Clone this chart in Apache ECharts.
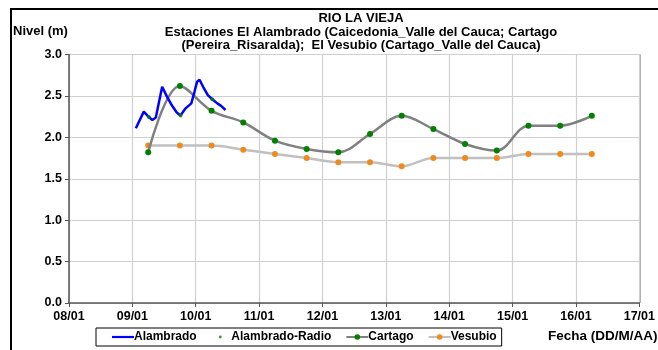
<!DOCTYPE html>
<html><head><meta charset="utf-8">
<script src="https://cdn.jsdelivr.net/npm/echarts@6/dist/echarts.min.js"></script>
<style>html,body{margin:0;padding:0;background:#fff}#c{width:658px;height:350px}</style>
</head><body><div id="c"></div>
<script>
// Data (x = day of January, fractional)
const alambradoDays   = [9.055, 9.18, 9.26, 9.315, 9.37, 9.47, 9.54, 9.62, 9.70, 9.76, 9.84, 9.93, 9.98, 10.02, 10.06, 10.13, 10.19, 10.26, 10.34, 10.40, 10.47];
const alambradoLevels = [2.11, 2.31, 2.245, 2.21, 2.24, 2.61, 2.50, 2.39, 2.30, 2.265, 2.35, 2.41, 2.55, 2.67, 2.695, 2.59, 2.51, 2.46, 2.41, 2.38, 2.33];
const radioDays   = [9.26, 9.76, 10.26];
const radioLevels = [2.245, 2.265, 2.46];
const stationDays = [9.25, 9.75, 10.25, 10.75, 11.25, 11.75, 12.25, 12.75, 13.25, 13.75, 14.25, 14.75, 15.25, 15.75, 16.25];
const cartagoLevels = [1.82, 2.62, 2.32, 2.18, 1.96, 1.86, 1.82, 2.04, 2.26, 2.10, 1.92, 1.84, 2.14, 2.14, 2.26];
const vesubioLevels = [1.90, 1.90, 1.90, 1.85, 1.80, 1.75, 1.70, 1.70, 1.65, 1.75, 1.75, 1.75, 1.80, 1.80, 1.80];
const xTickLabels = ['08/01','09/01','10/01','11/01','12/01','13/01','14/01','15/01','16/01','17/01'];
const yTickLabels = ['0.0','0.5','1.0','1.5','2.0','2.5','3.0'];
const seriesNames = ['Alambrado', 'Alambrado-Radio', 'Cartago', 'Vesubio'];

const zip = (a, b) => a.map((v, i) => [v, b[i]]);
const FONT = '"Liberation Sans", Arial, sans-serif';

const chart = echarts.init(document.getElementById('c'), null, {renderer: 'canvas'});
chart.setOption({
  animation: false,
  backgroundColor: '#fff',
  textStyle: {fontFamily: FONT},
  title: {
    text: 'RIO LA VIEJA\nEstaciones El Alambrado (Caicedonia_Valle del Cauca; Cartago\n(Pereira_Risaralda);  El Vesubio (Cartago_Valle del Cauca)',
    left: 356, top: 7, textAlign: 'center',
    textStyle: {fontFamily: FONT, fontSize: 13, fontWeight: 'bold', color: '#000', lineHeight: 13.5}
  },
  grid: {left: 69, right: 18, top: 54.5, bottom: 47, show: false},
  xAxis: {
    type: 'value', min: 8, max: 17, interval: 1,
    axisLine: {show: true, lineStyle: {color: '#555', width: 1.5}},
    axisTick: {show: true, length: 4, lineStyle: {color: '#555'}},
    splitLine: {show: true, lineStyle: {color: '#cfcfcf', width: 1.2}},
    axisLabel: {
      formatter: v => xTickLabels[Math.round(v - 8)],
      fontFamily: FONT, fontSize: 12.5, fontWeight: 'bold', color: '#000', margin: 7
    }
  },
  yAxis: {
    type: 'value', min: 0, max: 3, interval: 0.5,
    axisLine: {show: true, lineStyle: {color: '#555', width: 1.5}},
    axisTick: {show: true, length: 4, lineStyle: {color: '#555'}},
    splitLine: {show: true, lineStyle: {color: '#cfcfcf', width: 1.2}},
    axisLabel: {
      formatter: v => yTickLabels[Math.round(v * 2)],
      fontFamily: FONT, fontSize: 12.5, fontWeight: 'bold', color: '#000', margin: 7
    }
  },
  legend: {
    left: 96, top: 328, width: 420,
    itemGap: 14, itemWidth: 22, itemHeight: 7,
    padding: [3, 5, 3, 16],
    borderColor: '#000', borderWidth: 1,
    textStyle: {fontFamily: FONT, fontSize: 12, fontWeight: 'bold', color: '#000', padding: [0, 0, 0, -5]},
    data: [
      {name: seriesNames[0], icon: 'path://M0,3L22,3L22,5.2L0,5.2Z'},
      {name: seriesNames[1], icon: 'path://M0,0M22,0M22,8M0,8M11,4m-1.6,0a1.6,1.6 0 1,0 3.2,0a1.6,1.6 0 1,0 -3.2,0Z'},
      {name: seriesNames[2]},
      {name: seriesNames[3]}
    ]
  },
  graphic: [
    {type: 'rect', shape: {x: 11, y: 9, width: 760, height: 400}, style: {fill: 'none', stroke: '#000', lineWidth: 2}, silent: true},
    {type: 'text', left: 13, top: 25, style: {text: 'Nivel (m)', font: 'bold 13px ' + FONT, fill: '#000'}},
    {type: 'text', left: 548, top: 329, style: {text: 'Fecha (DD/M/AA)', font: 'bold 13.5px ' + FONT, fill: '#000'}},
    {type: 'line', shape: {x1: 640, y1: 54.5, x2: 640, y2: 303}, style: {stroke: '#777', lineWidth: 1.2}, silent: true}
  ],
  series: [
    {
      name: seriesNames[0], type: 'line', data: zip(alambradoDays, alambradoLevels),
      showSymbol: false, symbol: 'none', smooth: false,
      lineStyle: {color: '#0000ff', width: 2.5}, itemStyle: {color: '#0000ff'}, z: 4
    },
    {
      name: seriesNames[1], type: 'scatter', data: zip(radioDays, radioLevels),
      symbol: 'circle', symbolSize: 4, itemStyle: {color: '#008000'}, z: 5
    },
    {
      name: seriesNames[2], type: 'line', data: zip(stationDays, cartagoLevels),
      smooth: 0.35, symbol: 'circle', symbolSize: 6,
      lineStyle: {color: '#808080', width: 2.5}, itemStyle: {color: '#008000', borderWidth: 0}, z: 3
    },
    {
      name: seriesNames[3], type: 'line', data: zip(stationDays, vesubioLevels),
      smooth: 0.35, symbol: 'circle', symbolSize: 6,
      lineStyle: {color: '#c0c0c0', width: 2.5}, itemStyle: {color: '#f08a1c', borderWidth: 0}, z: 2
    }
  ]
});
</script></body></html>
